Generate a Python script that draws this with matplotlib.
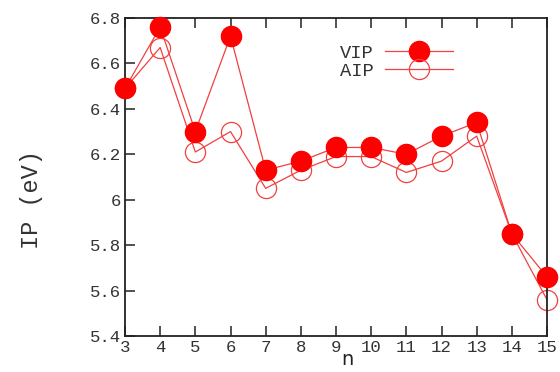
import numpy as np
import matplotlib.pyplot as plt

n = [3, 4, 5, 6, 7, 8, 9, 10, 11, 12, 13, 14, 15]
vip = [6.49, 6.76, 6.30, 6.72, 6.13, 6.17, 6.23, 6.23, 6.20, 6.28, 6.34, 5.85, 5.66]
aip = [6.49, 6.67, 6.21, 6.30, 6.05, 6.13, 6.19, 6.19, 6.12, 6.17, 6.28, 5.85, 5.56]
yticks = [5.4, 5.6, 5.8, 6.0, 6.2, 6.4, 6.6, 6.8]
ylabels = ['5.4', '5.6', '5.8', '6', '6.2', '6.4', '6.6', '6.8']

mono = 'Liberation Mono'

fig = plt.figure(figsize=(5.6, 3.72), dpi=100)
ax = fig.add_axes([125 / 560, 1 - 336 / 372, 422 / 560, 318 / 372])

ax.plot(n, vip, '-', color='#f04040', lw=0.9, marker='o', ms=14.5,
        mfc='red', mec='red', clip_on=False, label='VIP', zorder=3)
ax.plot(n, aip, '-', color='#f04040', lw=0.9, marker='o', ms=14.5,
        mfc='none', mec='#f04040', mew=0.9, clip_on=False, label='AIP', zorder=2)

ax.set_xlim(3, 15)
ax.set_ylim(5.4, 6.8)
ax.set_xticks(n)
ax.set_yticks(yticks)
ax.set_yticklabels(ylabels)
ax.tick_params(direction='in', length=7, width=1.2, top=True, right=False,
               labelsize=12.5, colors='#333333', pad=3)
for lbl in ax.get_xticklabels() + ax.get_yticklabels():
    lbl.set_family(mono)
for s in ax.spines.values():
    s.set_linewidth(1.3)
    s.set_color('#222222')

ax.set_ylabel('IP (eV)', family=mono, fontsize=17, color='#333333')
ax.yaxis.set_label_coords(-0.195, 0.43)
ax.set_xlabel('n', fontsize=14, color='#222222')
ax.xaxis.set_label_coords(0.528, -0.045)

leg = ax.legend(loc='upper left', bbox_to_anchor=(0.47, 0.97), frameon=False,
                prop={'family': mono, 'size': 13.5}, handlelength=3.6,
                markerfirst=False, labelspacing=0.05, handletextpad=0.6)
for t in leg.get_texts():
    t.set_color('#333333')

fig.savefig('out.png', dpi=100)
